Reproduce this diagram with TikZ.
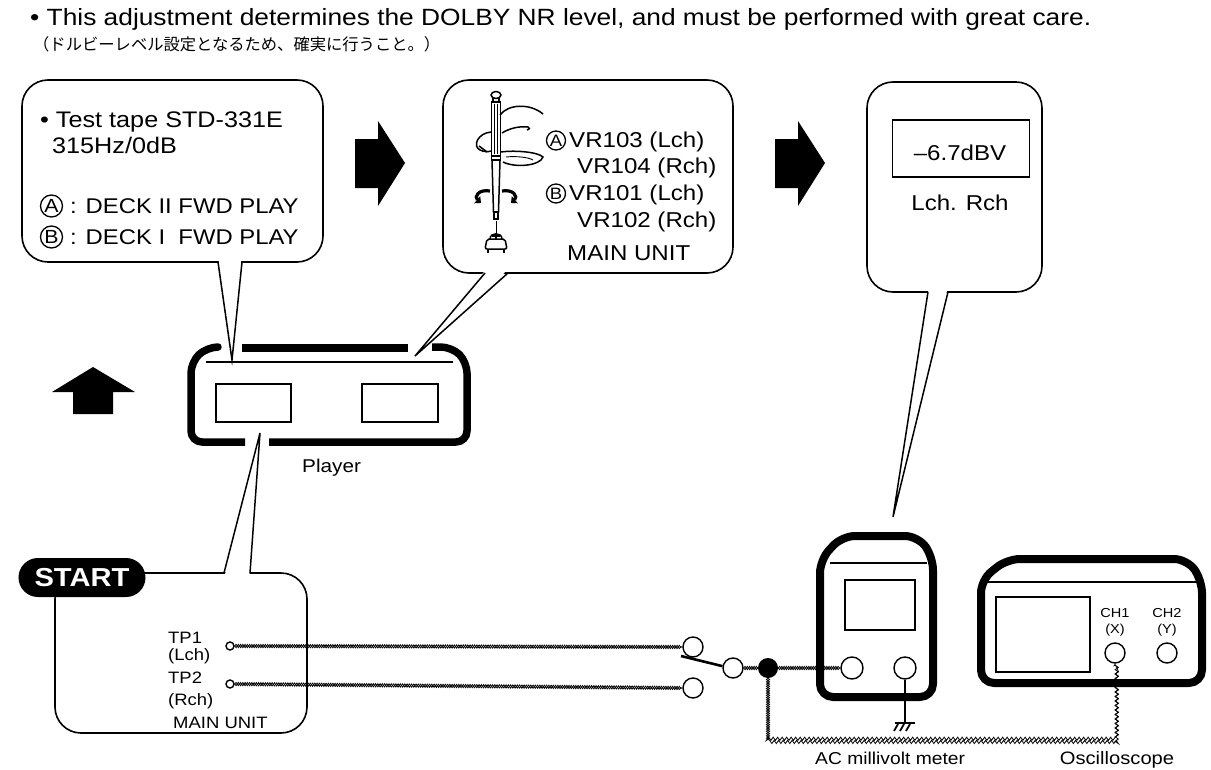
\documentclass[tikz,border=0pt]{standalone}
\usepackage{fontspec}
\setmainfont[FakeStretch=1.12]{Liberation Sans}
\newfontfamily\jpfont{Noto Sans CJK JP}
\usetikzlibrary{decorations.pathmorphing,arrows.meta}

\newcommand\fs[1]{\fontsize{#1bp}{#1bp}\selectfont}

\begin{document}
\begin{tikzpicture}[x=1bp,y=-1bp,
  callout/.style={line width=1.6bp, rounded corners=26bp, fill=white},
  body/.style={line width=7.5bp, rounded corners=11bp, line join=round},
  thin/.style={line width=1.5bp},
  jack/.style={circle, draw, line width=1.4bp, minimum size=20bp, inner sep=0pt},
  tp/.style={circle, draw, line width=1.4bp, minimum size=8bp, inner sep=0pt},
  encl/.style={circle, draw, line width=1.3bp, inner sep=0pt, minimum size=#1},
  lbl/.style={inner sep=0pt, anchor=base west},
  clbl/.style={inner sep=0pt, anchor=base},
  wirea/.style={decorate, decoration={snake, amplitude=1.6bp, segment length=4.5bp}, line width=0.8bp},
  wireb/.style={decorate, decoration={snake, amplitude=1.6bp, segment length=4.5bp, mirror}, line width=0.8bp},
  spin/.style={line width=3.2bp, -{Triangle[length=5bp,width=9bp]}}
]
\useasboundingbox (0,0) rectangle (1211,770);

% ---------- heading ----------
\node[lbl, font=\fs{23.5}] (head) at (30,26)
  {• This adjustment determines the DOLBY NR level, and must be performed with great care.};
\node[lbl, font=\jpfont\fs{16.3}] (headjp) at (33,51)
  {（ドルビーレベル設定となるため、確実に行うこと。）};

% ---------- step 1 callout: test tape ----------
\draw[callout] (22,80) rectangle (323,262);
\fill[white] (218.6,259) -- (241.4,259) -- (232,360) -- cycle;
\draw[thin] (218,262) -- (232,360) -- (242,262);
\node[lbl, font=\fs{22.5}] (t1) at (40,127) {• Test tape STD-331E};
\node[lbl, font=\fs{22.5}] (t2) at (52,153) {315Hz/0dB};
\node[encl=22bp, font=\fs{19}] (ta) at (51.5,206) {A};
\node[lbl, font=\fs{21.3}] (t3) at (70,213) {: DECK II FWD PLAY};
\node[encl=22bp, font=\fs{19}] (tb) at (51.5,237) {B};
\node[lbl, font=\fs{21.3}] (t4) at (70,244) {: DECK I\phantom{I} FWD PLAY};

% ---------- step 2 callout: adjustment ----------
\draw[callout] (443,80) rectangle (733,273);
\fill[white] (485.6,270) -- (507.4,270) -- (415,356) -- cycle;
\draw[thin] (485,273) -- (415,356) -- (508,273);
\node[encl=19bp, font=\fs{16.5}] (va) at (556,140.5) {A};
\node[lbl, font=\fs{21.5}] (v1) at (569,147) {VR103 (Lch)};
\node[lbl, font=\fs{21.5}] (v2) at (577,173) {VR104 (Rch)};
\node[encl=19bp, font=\fs{16.5}] (vb) at (556,193.5) {B};
\node[lbl, font=\fs{21.5}] (v3) at (569,200) {VR101 (Lch)};
\node[lbl, font=\fs{21.5}] (v4) at (577,227) {VR102 (Rch)};
\node[lbl, font=\fs{21.5}] (v5) at (567,260) {MAIN UNIT};

% screwdriver held in a hand
\draw[thin, fill=white] (496,95) ellipse [x radius=5, y radius=3.5];
\draw[thin] (493,98) -- (493,102) (499,98) -- (499,102);
\draw[thin, fill=white] (491.5,102) rectangle (500.5,156);
\draw[line width=0.7bp] (494.5,104) -- (494.5,154) (497.5,104) -- (497.5,154);
\draw[thin, fill=white] (491.5,156) rectangle (500.5,160);
\draw[thin, fill=white] (492,160) -- (493.5,212) -- (498.5,212) -- (500,160) -- cycle;
\draw[thin, fill=white] (493.8,212) rectangle (498.2,219);
\draw[line width=0.8bp] (496,221) -- (496,234);
% fingers
\draw[thin] (500,115) .. controls (508,104) and (530,103) .. (543,114);
\draw[thin] (502,133) .. controls (510,128) and (520,126) .. (528,127)
  .. controls (530,128) and (530,129) .. (527,130);
\draw[thin] (491,132) .. controls (478,133) and (472,146) .. (480,150)
  .. controls (484,152) and (488,152) .. (491,151);
\draw[thin] (479,146) -- (487,152);
\draw[thin] (501,152) .. controls (515,150) and (538,152) .. (543,157)
  .. controls (540,166) and (515,168) .. (503,162);
\draw[line width=0.9bp] (506,157) .. controls (515,156) and (528,157) .. (533,160);
% rotation arrows
\draw[spin] (490,191) .. controls (478,189) and (474,197) .. (481,203);
\draw[spin] (502,191) .. controls (514,189) and (518,197) .. (511,203);
% trimmer
\draw[thin] (490,239) .. controls (490,232) and (502,232) .. (502,239);
\draw[thin] (496,233) -- (496,239) (492,236) -- (500,236);
\draw[thin, fill=white, rounded corners=2bp] (487,239) -- (505,239) -- (507,249) -- (485,249) -- cycle;
\draw[thin] (488,249) -- (488,253) (504,249) -- (504,253);

% ---------- step 3 callout: meter reading ----------
\draw[callout] (867,82) rectangle (1042,292);
\fill[white] (928.6,289) -- (947.4,289) -- (893,517) -- cycle;
\draw[thin] (928,292) -- (893,517) -- (948,292);
\node[draw, thin, minimum width=137bp, minimum height=57bp, inner sep=0pt] (disp) at (961,148.5) {};
\node[clbl, font=\fs{21.5}] (dbv) at (960,160) {–6.7dBV};
\node[clbl, font=\fs{21.5}] (lr) at (960,210) {Lch. Rch};

% ---------- block arrows ----------
\fill (355,139) -- (378,139) -- (378,121) -- (405,163) -- (378,206) -- (378,188) -- (355,188) -- cycle;
\fill (775,139) -- (798,139) -- (798,121) -- (825,163) -- (798,206) -- (798,188) -- (775,188) -- cycle;
\fill (93,367) -- (135,392) -- (113,392) -- (113,414) -- (73,414) -- (73,392) -- (52,392) -- cycle;

% ---------- player ----------
\draw[body] (217,347) -- (207,347) -- (191,362) -- (191,442) -- (245,442);
\draw[body] (269,442) -- (467,442) -- (467,362) -- (452,347) -- (432,347);
\draw[line width=7.5bp] (242,348) -- (408,348);
\draw[thin] (206,362) -- (453,362);
\node[draw, thin, minimum width=75bp, minimum height=38bp] (win1) at (253.5,403) {};
\node[draw, thin, minimum width=76bp, minimum height=38bp] (win2) at (400,403) {};
\node[lbl, font=\fs{18.5}] (plabel) at (302,472) {Player};

% ---------- START callout ----------
\draw[callout] (55,573) rectangle (307,733);
\fill[white] (224.6,576) -- (249.4,576) -- (260,433) -- cycle;
\draw[thin] (224,573) -- (260,433) -- (250,573);
\node[fill=black, text=white, rounded corners=19.5bp, minimum width=127bp, minimum height=39bp,
      inner sep=0pt, font=\bfseries\fs{26}] (start) at (82,577.5) {START};
\node[lbl, font=\fs{16.5}] (tp1l) at (168,643) {TP1};
\node[lbl, font=\fs{16.5}] (tp1c) at (168,660) {(Lch)};
\node[lbl, font=\fs{16.5}] (tp2l) at (168,683) {TP2};
\node[lbl, font=\fs{16.5}] (tp2c) at (168,705) {(Rch)};
\node[lbl, font=\fs{16.5}] (mu) at (173,728) {MAIN UNIT};
\node[tp] (tp1) at (230,646) {};
\node[tp] (tp2) at (230,684) {};

% ---------- AC millivolt meter ----------
\draw[body, line width=8bp, rounded corners=13bp]
  (842,536) -- (918,536) -- (933,557) -- (933,697) -- (820,697) -- (820,560) -- cycle;
\draw[thin] (830,563) -- (927,563);
\node[draw, thin, minimum width=70bp, minimum height=50bp] (mscreen) at (880,605) {};
\node[jack, minimum size=22bp] (min) at (852,668) {};
\node[jack, minimum size=22bp] (mgnd) at (905,668) {};
\draw[thin] (mgnd.south) -- (905,723);
\draw[thin] (895,723) -- (915,723);
\draw[line width=1.8bp] (898,724) -- (894,731) (904,724) -- (900,731) (910,724) -- (906,731);
\node[lbl, font=\fs{17.2}] (mlabel) at (815,764) {AC millivolt meter};

% ---------- oscilloscope ----------
\draw[body, line width=8bp, rounded corners=13bp]
  (1007,559) -- (1187,559) -- (1202,580) -- (1202,683) -- (981,683) -- (981,580) -- cycle;
\draw[thin] (985,582) -- (1198,582);
\node[draw, thin, minimum width=94bp, minimum height=75bp] (oscreen) at (1043,634.5) {};
\node[jack] (ch1) at (1115,653) {};
\node[jack] (ch2) at (1167,653) {};
\node[clbl, font=\fs{13}] (ch1a) at (1115,617) {CH1};
\node[clbl, font=\fs{13}] (ch1b) at (1115,633) {(X)};
\node[clbl, font=\fs{13}] (ch2a) at (1167,617) {CH2};
\node[clbl, font=\fs{13}] (ch2b) at (1167,633) {(Y)};
\node[clbl, font=\fs{18}] (olabel) at (1117,764) {Oscilloscope};

% ---------- selector switch and junction ----------
\node[jack] (sw1) at (693,647) {};
\node[jack] (sw2) at (693,688) {};
\node[jack] (swc) at (733,668) {};
\node[circle, fill=black, minimum size=20bp, inner sep=0pt] (junc) at (768,668) {};
\draw[line width=2.6bp] (681,656) -- (swc.170);

% ---------- shielded leads ----------
\foreach \w in {wirea,wireb}{
  \draw[\w] (tp1.east) -- (sw1.west);
  \draw[\w] (tp2.east) -- (sw2.west);
  \draw[\w] (swc.east) -- (junc.west);
  \draw[\w] (junc.east) -- (min.west);
  \draw[\w] (junc.south) -- ++(0,62) -| (ch1.south);
}
\end{tikzpicture}
\end{document}
